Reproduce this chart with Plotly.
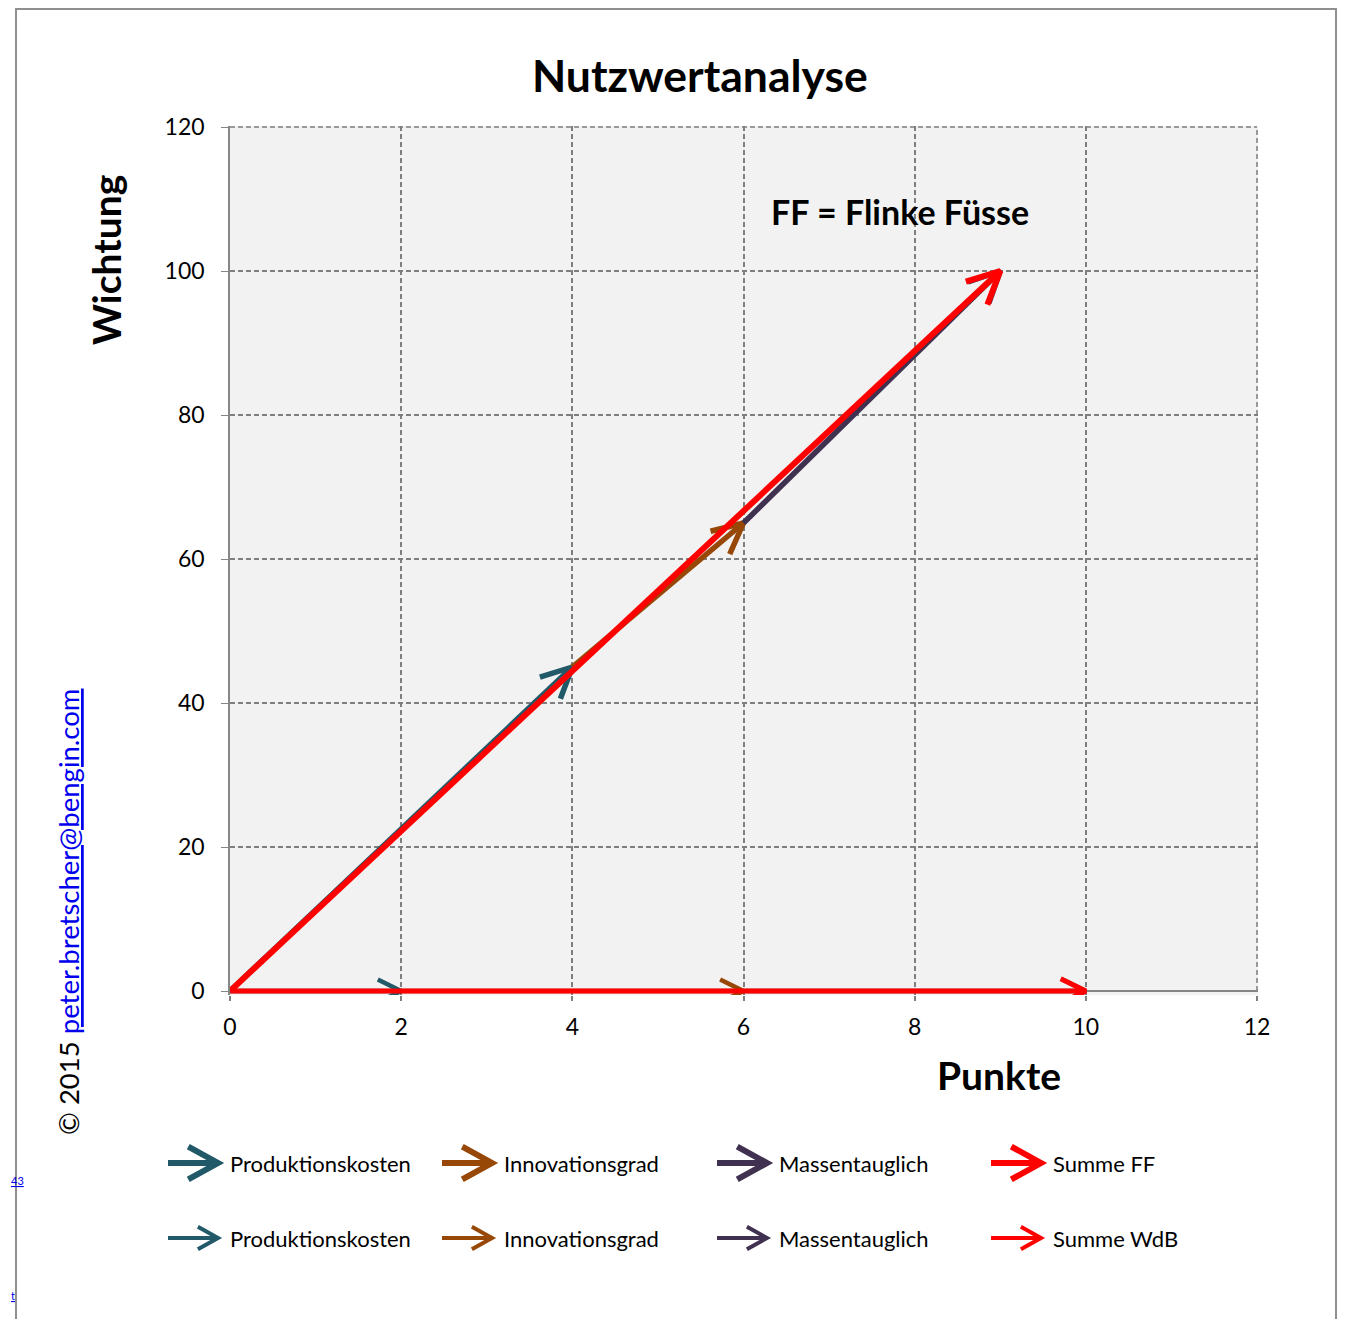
import math
import plotly.graph_objects as go

# ---------------- data ----------------
x_ticks = [0, 2, 4, 6, 8, 10, 12]
y_ticks = [0, 20, 40, 60, 80, 100, 120]

criteria = ["Produktionskosten", "Innovationsgrad", "Massentauglich"]
crit_colors = ["#215968", "#974706", "#403151"]
sum_color = "#FF0000"

# cumulative points (Punkte, Wichtung) for each alternative
ff_x = [0, 4, 6, 9]
ff_y = [0, 45, 65, 100]
wdb_x = [0, 2, 6, 10]
wdb_y = [0, 0, 0, 0]

# ---------------- layout geometry ----------------
# the page body has an 8px margin, so the figure is drawn at (8, 8) in the window
OFF = 8
W, H = 1330, 1311
SX = 1027 / 12.0     # px per x unit
SY = 864 / 120.0     # px per y unit
ML, MT = 222, 118
X_RANGE = [0, 12 + 1 / SX]
Y_RANGE = [-4 / SY, 120 + 1 / SY]
PW = (X_RANGE[1] - X_RANGE[0]) * SX
PH = (Y_RANGE[1] - Y_RANGE[0]) * SY
MR = W - ML - PW
MB = H - MT - PH


def arrow_xy(x0, y0, x1, y1, head_px, phi_deg):
    dx = (x1 - x0) * SX
    dy = (y1 - y0) * SY
    ang = math.atan2(dy, dx)
    xs = [x0, x1, None]
    ys = [y0, y1, None]
    arms = []
    for s in (1, -1):
        a = ang + math.pi + s * math.radians(phi_deg)
        arms.append((x1 + head_px * math.cos(a) / SX, y1 + head_px * math.sin(a) / SY))
    xs += [arms[0][0], x1, arms[1][0]]
    ys += [arms[0][1], y1, arms[1][1]]
    return xs, ys


fig = go.Figure()


def add_series(px, py, width, head):
    for i, (name, col) in enumerate(zip(criteria, crit_colors)):
        xs, ys = arrow_xy(px[i], py[i], px[i + 1], py[i + 1], head, 26)
        fig.add_trace(go.Scatter(x=xs, y=ys, mode="lines", name=name,
                                 line=dict(color=col, width=width),
                                 showlegend=False, hoverinfo="skip"))


def add_sum(px, py, name, width, head):
    xs, ys = arrow_xy(px[0], py[0], px[-1], py[-1], head, 26)
    fig.add_trace(go.Scatter(x=xs, y=ys, mode="lines", name=name,
                             line=dict(color=sum_color, width=width),
                             showlegend=False, hoverinfo="skip"))


add_series(wdb_x, wdb_y, 4.5, 26)
add_sum(wdb_x, wdb_y, "Summe WdB", 5, 28)
add_series(ff_x, ff_y, 5.5, 34)
add_sum(ff_x, ff_y, "Summe FF", 6, 36)

FONT = "Lato"
GRID = "#7f7f7f"
AX = "#868686"

fig.update_layout(
    width=W, height=H,
    margin=dict(l=ML, r=MR, t=MT, b=MB, pad=0),
    paper_bgcolor="white",
    plot_bgcolor="#F2F2F2",
    font=dict(family=FONT, color="black"),
    showlegend=False,
    xaxis=dict(range=X_RANGE, tickvals=x_ticks, ticktext=[str(v) for v in x_ticks],
               showgrid=True, gridcolor=GRID, griddash="5px,3px", gridwidth=1.5,
               showline=False, zeroline=False,
               ticks="outside", ticklen=5, tickcolor=GRID, tickwidth=1.5,
               tickfont=dict(family=FONT, size=23, color="black"),
               ticklabelstandoff=6, fixedrange=True),
    yaxis=dict(range=Y_RANGE, tickvals=y_ticks, ticktext=[str(v) for v in y_ticks],
               showgrid=True, gridcolor=GRID, griddash="5px,3px", gridwidth=1.5,
               showline=True, linecolor=AX, linewidth=1.5,
               zeroline=True, zerolinecolor=AX, zerolinewidth=1.5,
               ticks="outside", ticklen=7, tickcolor=AX,
               tickfont=dict(family=FONT, size=23, color="black"),
               ticklabelstandoff=12, fixedrange=True),
)


def px2paper(x, y):
    """window pixel -> paper coordinate"""
    fx, fy = x - OFF, y - OFF
    return (fx - ML) / PW, (MT + PH - fy) / PH


annotations = []


def add_text(x, y, text, size, bold=False, xanchor="center", angle=0, color="black"):
    px, py = px2paper(x, y)
    annotations.append(dict(xref="paper", yref="paper", x=px, y=py,
                            text=("<b>%s</b>" % text) if bold else text,
                            showarrow=False, xanchor=xanchor, yanchor="middle", textangle=angle,
                            font=dict(family=FONT, size=size, color=color)))


add_text(700, 75, "Nutzwertanalyse", 44.5, bold=True)
add_text(106, 260, "Wichtung", 39, bold=True, angle=-90)
add_text(999, 1075, "Punkte", 39, bold=True)
add_text(900, 211, "FF = Flinke Füsse", 34, bold=True)
add_text(68, 912, "© 2015 <span style='color:#0000EE'><u>peter.bretscher@bengin.com</u></span>",
         27.5, angle=-90)
add_text(9, 1180, "<u>43</u>", 11, xanchor="left", color="#0000EE")
add_text(9, 1295, "<u>t</u>", 11, xanchor="left", color="#0000EE")

shapes = []
# dashed gridlines on the far edges of the plot (x = 12, y = 120)
shapes.append(dict(type="line", xref="x", yref="y", x0=x_ticks[0], x1=x_ticks[-1],
                   y0=y_ticks[-1], y1=y_ticks[-1], layer="below",
                   line=dict(color=GRID, width=1.5, dash="5px,3px")))
shapes.append(dict(type="line", xref="x", yref="y", x0=x_ticks[-1], x1=x_ticks[-1],
                   y0=y_ticks[0], y1=y_ticks[-1], layer="below",
                   line=dict(color=GRID, width=1.5, dash="5px,3px")))

# custom legend: arrow shapes + labels
legend_cols = [168, 442, 717, 991]
legend_rows = [(1163, "FF", 6, 34, 29), (1238, "WdB", 4, 23, 29)]
legend_colors = crit_colors + [sum_color]
for (ry, tag, lw, hl, phi) in legend_rows:
    for j, cx in enumerate(legend_cols):
        x0, x1 = cx, cx + 50
        ax1 = x1 - hl * math.cos(math.radians(phi))
        ay = hl * math.sin(math.radians(phi))
        p0 = px2paper(x0, ry)
        p1 = px2paper(x1, ry)
        a1 = px2paper(ax1, ry - ay)
        a2 = px2paper(ax1, ry + ay)
        path = "M %f,%f L %f,%f M %f,%f L %f,%f L %f,%f" % (p0[0], p0[1], p1[0], p1[1],
                                                           a1[0], a1[1], p1[0], p1[1], a2[0], a2[1])
        shapes.append(dict(type="path", xref="paper", yref="paper", path=path,
                           line=dict(color=legend_colors[j], width=lw)))
        label = criteria[j] if j < 3 else "Summe " + tag
        add_text(cx + 60, ry, label, 22, xanchor="left")

# outer frame
f0 = px2paper(16, 9)
f1 = px2paper(1336, 1340)
shapes.append(dict(type="rect", xref="paper", yref="paper", x0=f0[0], y0=f1[1], x1=f1[0], y1=f0[1],
                   line=dict(color="#8f8f8f", width=2), fillcolor="rgba(0,0,0,0)", layer="below"))

fig.update_layout(annotations=annotations, shapes=shapes)
fig.write_html("out.html")
